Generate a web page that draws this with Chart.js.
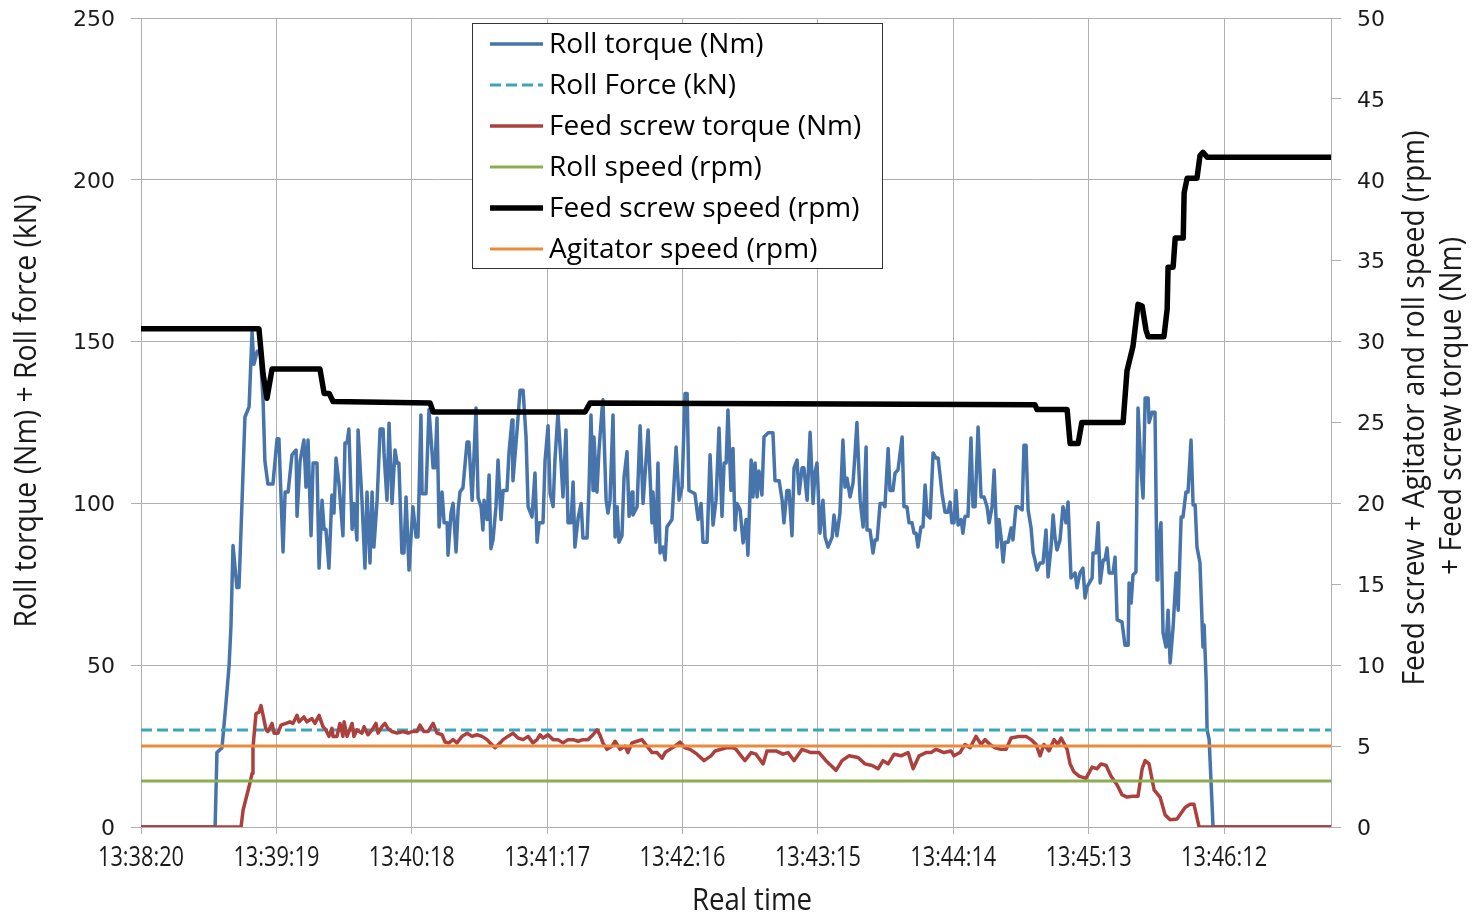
<!DOCTYPE html>
<html>
<head>
<meta charset="utf-8">
<script src="https://cdn.jsdelivr.net/npm/chart.js@4.4.1/dist/chart.umd.min.js"></script>
<style>
  html, body { margin: 0; padding: 0; background: #fff; }
  canvas { display: block; }
</style>
</head>
<body>
<canvas id="chart" width="1476" height="915"></canvas>
<script>
// ─── Data (time in seconds from 13:38:20) ────────────────────────────────────

const START_SEC = 13 * 3600 + 38 * 60 + 20;
const T_END = 518.6;
const TIME_STEP = 59;

// Roll torque (Nm), left axis
const rollTorque = [
  [0,0],[32.3,0],[33.1,23],[35.3,24.5],[37.0,38],[38.4,50],[39.2,62],[40.1,87],[41.8,74],[42.7,74],[44.0,100],
  [45.3,126.7],[47.1,129.8],[48.4,153],[49.2,143],[50.6,147],[51.9,147],[53.2,132],[54.0,113],[55.3,106],[57.5,106],
  [59.3,120],[60.1,120],[61.9,85],[62.8,103.5],[64.1,103.5],[65.8,115],[67.6,116.5],[68.0,96],[69.3,113],[71.0,119.6],
  [71.9,105],[72.8,119.6],[74.1,90],[75.0,112.5],[76.7,112.5],[77.6,80],[78.9,101],[79.8,92],[80.6,92],[81.9,80],
  [83.2,102.6],[84.1,97],[85.0,114],[86.3,106],[88.0,90],[88.9,118.7],[89.8,118.7],[90.6,123],[92.0,92],[92.8,100],
  [94.1,88.7],[94.6,122.7],[96.3,101],[97.6,80],[98.5,103.5],[99.8,81.6],[100.7,103.5],[101.5,86.5],[102.9,101],
  [104.2,123],[105.5,123],[105.9,115.6],[107.2,101],[108.1,124.8],[109.4,100],[110.7,116.5],[111.6,112.5],[112.4,112.5],
  [113.7,84.7],[114.6,84.7],[115.5,102],[116.8,79.4],[118.5,99],[119.9,89.6],[120.7,89.6],[122.0,127.3],[122.5,103],
  [124.2,103],[125.5,129],[127.3,111],[128.1,111],[129.0,126.4],[129.9,92.7],[131.2,103.5],[132.1,94],[133.4,94],
  [133.8,84],[135.1,97],[136.0,100],[137.3,85],[138.2,98],[139.0,103.5],[140.3,104.8],[142.1,119],[142.9,119],
  [144.3,101],[146.0,129.5],[146.9,101.7],[148.2,99],[149.0,91.8],[149.5,101],[150.8,95],[151.7,108.8],[152.5,86],
  [153.4,88.7],[154.7,99],[155.6,113.4],[156.9,95],[157.8,104],[159.5,104],[160.4,116],[161.7,125.8],[162.1,107],
  [163.9,122.7],[165.2,135],[166.5,135],[167.8,120.5],[168.7,99],[170.4,95.8],[171.7,109.4],[172.6,88],[173.5,94],
  [175.2,94],[176.1,113.4],[177.4,124],[178.3,103],[179.6,99],[180.4,113.4],[181.7,128],[183.0,113.4],[183.9,102],
  [185.2,122.7],[186.1,94],[187.4,94],[188.3,106.6],[189.1,86.5],[190.5,95.5],[191.8,100],[192.6,89.3],[194.4,89.3],
  [195.2,104],[196.1,127.3],[197.0,104],[197.4,120.5],[198.7,103.5],[199.6,116.5],[200.9,128.9],[201.3,132],[202.7,101],
  [203.5,97],[204.4,101],[205.7,127.3],[206.6,89.6],[207.5,99],[208.3,88],[209.6,90],[210.5,108],[211.8,116],[212.7,96],
  [214.0,103.5],[214.4,96.4],[216.2,99],[217.5,124],[218.8,100],[221.0,122.7],[222.7,94],[223.1,103.5],[224.4,88],
  [225.3,112.5],[226.2,84.7],[227.5,86.5],[228.4,82.5],[229.2,92.7],[231.4,95],[233.2,117.4],[234.5,101],[235.8,105],
  [237.1,134],[238.0,134],[238.8,104],[241.4,103],[242.8,95],[244.1,100],[244.9,88],[246.7,88],[248.0,115],[249.3,93.3],
  [250.6,101],[251.9,123.3],[253.2,96],[254.1,112.5],[255.0,112.5],[255.8,128.9],[257.1,104],[258.0,117],[258.9,91.8],
  [259.7,100],[261.1,98],[262.4,87.8],[263.7,95],[264.5,84],[265.9,113.4],[266.7,102],[267.6,112.5],[268.5,102],
  [269.3,110],[270.6,102.6],[271.5,120.5],[273.3,121.8],[275.4,121.8],[276.3,107],[278.1,107],[279.4,101],[280.2,94],
  [281.5,104],[282.4,104],[283.7,90],[284.6,111],[285.9,113.4],[286.8,103],[288.1,111],[288.9,111],[290.3,101],
  [291.6,122],[292.9,100],[293.7,109.4],[294.6,112.5],[295.9,90.8],[297.2,101],[298.1,89.6],[299.4,86.5],[301.2,89.6],
  [302.0,96.4],[303.3,90],[304.6,97],[305.9,119.6],[306.8,105],[307.7,107.8],[309.0,102],[310.3,106.3],[311.2,115.6],
  [312.0,125],[313.4,101],[314.7,92.7],[316.0,117.4],[316.4,91.8],[317.7,91.8],[319.0,84.7],[319.9,88.7],[320.8,88.7],
  [322.1,100],[323.4,100],[324.2,99],[325.6,117],[326.4,104],[327.7,104],[328.6,109.4],[329.9,110.3],[331.7,120.5],
  [332.5,99],[333.8,99],[334.7,94],[336.0,94],[336.9,90.8],[337.8,90.8],[338.6,86.5],[339.9,92.7],[340.8,92.7],
  [341.7,105.7],[342.6,96.4],[343.9,95.5],[345.2,115.6],[346.5,114],[347.4,114],[349.1,103],[350.4,97.3],[351.7,97.3],
  [352.6,100.4],[353.4,94],[354.3,94],[355.2,104],[356.1,93.3],[357.4,95],[358.2,90.8],[359.1,96],[360.4,96],
  [361.7,120.2],[362.6,99],[363.5,99],[364.8,123.6],[366.1,102],[367.4,102],[368.7,99],[369.6,94],[370.9,99],
  [371.8,110.3],[373.1,86.5],[373.9,95],[374.8,89.6],[375.7,81.9],[376.5,88],[377.9,88],[379.2,92.4],[380.0,88.7],
  [381.3,99],[382.2,99],[384.0,98],[384.8,118],[385.7,118],[386.6,98],[387.9,92.4],[388.8,84.7],[389.6,82.5],
  [390.5,79.4],[391.8,81.6],[393.1,81.6],[394.4,91.8],[395.3,77.3],[396.6,86.5],[397.5,96.4],[398.3,89.6],[399.2,85.6],
  [400.5,88.7],[401.8,99],[403.1,94],[404.0,100.4],[405.3,77],[407.1,78.5],[407.9,73.9],[409.2,78.5],[410.5,80],
  [411.4,70.8],[412.3,74.2],[414.5,77],[414.9,84.7],[416.2,84.7],[417.1,94],[418.0,75.4],[419.3,82.5],[420.1,82.5],
  [421.0,86.2],[421.9,78.5],[423.6,78.5],[424.5,83.4],[425.4,64],[427.5,63.4],[428.8,56.2],[430.2,56.2],[430.6,75.4],
  [431.5,69.2],[432.3,77.9],[433.6,78.8],[434.5,129.5],[435.8,110.3],[436.7,101.7],[437.6,132.6],[438.9,132.6],
  [439.3,125],[440.6,128.2],[441.9,128.2],[442.8,76.3],[443.2,86.5],[444.5,94],[445.4,60],[446.7,55.6],[447.6,67],
  [448.5,50.7],[449.8,61.8],[451.1,78.5],[452.0,67],[453.3,95.8],[454.1,95.8],[455.4,103.5],[456.3,103.5],[457.6,119.6],
  [458.5,99.5],[459.4,99.5],[460.2,86.5],[461.5,81.6],[462.8,55.6],[463.3,62.4],[464.2,45],[464.6,30],[465.5,27],
  [467.2,0],[518.6,0]
];

// Roll force (kN), left axis
const rollForce = [[0,30],[518.6,30]];

// Feed screw torque (Nm), right axis
const feedTorque = [
  [0,0],[43.6,0],[44.5,1.05],[47.1,2.5],[48.4,3.3],[48.8,4.9],[50.1,7.0],[51.4,7.1],[52.3,7.5],[53.2,6.9],[54.5,6.0],
  [55.3,5.9],[57.1,6.4],[58.0,5.8],[59.7,5.8],[61.0,6.3],[63.2,6.4],[64.9,6.5],[66.2,6.4],[68.0,6.9],[68.9,6.5],
  [71.0,6.8],[72.3,6.5],[74.5,6.7],[75.8,6.4],[77.6,6.9],[79.3,6.2],[80.6,6.0],[81.9,5.6],[83.2,6.1],[83.7,5.6],
  [85.4,5.6],[86.7,6.4],[88.0,5.6],[88.5,6.5],[89.8,5.6],[92.0,6.4],[92.8,5.6],[94.1,6.0],[96.3,5.8],[97.2,6.2],
  [98.9,5.7],[100.7,6.0],[102.4,6.4],[103.3,5.8],[105.0,6.2],[106.3,6.4],[107.6,6.1],[109.4,5.9],[111.6,5.8],
  [114.2,5.9],[116.4,5.8],[118.1,5.9],[120.3,5.9],[121.6,6.3],[123.3,5.9],[125.1,5.9],[127.3,6.4],[129.0,5.8],
  [131.2,5.7],[132.5,5.25],[134.2,5.2],[136.0,5.4],[137.7,5.2],[139.9,5.6],[142.1,5.8],[144.3,5.6],[146.4,5.7],
  [148.6,5.6],[150.8,5.4],[152.1,5.2],[154.3,4.9],[156.5,5.2],[157.8,5.4],[159.9,5.6],[162.1,5.8],[164.3,5.5],
  [166.5,5.4],[168.7,5.6],[170.8,5.2],[172.6,5.4],[173.9,5.7],[175.2,5.5],[177.4,5.7],[179.6,5.4],[181.7,5.4],
  [183.9,5.2],[186.1,5.4],[188.3,5.4],[190.5,5.3],[192.6,5.4],[194.8,5.4],[197.0,5.7],[198.7,6.0],[200.0,5.7],
  [201.3,5.2],[203.1,4.8],[205.3,5.0],[206.6,5.3],[208.8,4.8],[210.9,5.0],[212.2,4.6],[214.0,5.2],[216.2,5.3],
  [218.3,5.4],[220.5,5.0],[222.7,4.6],[224.9,4.6],[227.1,4.25],[228.4,4.6],[230.5,4.8],[232.7,5.0],[234.9,5.25],
  [237.1,4.9],[239.3,4.8],[242.3,4.5],[245.4,4.1],[248.4,4.4],[250.2,4.7],[255.0,4.9],[258.0,4.9],[259.3,4.8],
  [263.2,4.1],[265.9,4.6],[268.0,4.5],[271.1,3.9],[272.8,4.7],[276.7,4.7],[279.8,4.5],[282.0,4.6],[284.6,4.1],
  [288.1,4.8],[292.0,4.6],[295.5,4.6],[298.5,4.1],[300.7,3.8],[302.9,3.5],[305.5,4.1],[308.6,4.4],[312.5,4.3],
  [315.5,3.9],[318.6,3.8],[321.2,3.6],[323.4,4.1],[325.6,3.9],[328.2,4.5],[331.2,4.4],[334.3,4.6],[336.5,3.6],
  [339.1,4.4],[342.1,4.6],[344.3,4.6],[346.5,4.8],[350.0,4.6],[353.0,4.7],[354.3,4.4],[356.9,4.6],[359.1,5.1],
  [361.3,4.9],[363.9,5.6],[366.1,5.1],[367.8,5.4],[370.0,5.1],[372.2,4.9],[374.8,4.8],[377.0,4.8],[379.2,5.5],
  [382.7,5.6],[385.7,5.6],[387.9,5.4],[390.1,5.1],[391.8,4.4],[393.5,5.1],[395.7,4.7],[397.9,5.4],[399.6,5.1],
  [401.0,5.5],[403.6,4.8],[404.9,3.9],[406.6,3.4],[408.8,3.15],[411.8,3.0],[414.5,3.7],[416.6,3.6],[418.4,3.9],
  [420.6,3.8],[422.7,3.15],[425.4,2.6],[427.5,2.0],[429.7,1.85],[432.3,1.9],[434.5,1.9],[436.3,3.6],[437.6,4.1],
  [439.3,3.9],[441.5,2.3],[444.1,1.85],[446.3,0.75],[448.5,0.45],[451.5,0.5],[455.0,1.2],[457.2,1.4],[458.9,1.4],
  [461.1,0],[518.6,0]
];

// Roll speed (rpm), right axis
const rollSpeed = [[0,2.85],[518.6,2.85]];

// Feed screw speed (rpm), right axis
const feedSpeed = [
  [0,30.8],[51.4,30.8],[53.2,28.0],[54.9,26.5],[57.1,28.3],[78.0,28.3],[79.8,26.8],[82.0,26.8],[83.7,26.3],
  [126.0,26.2],[127.3,25.65],[193.5,25.65],[195.7,26.2],[389.6,26.1],[390.5,25.8],[403.6,25.8],[404.9,23.7],
  [408.4,23.7],[410.0,25.0],[428.0,25.0],[429.7,28.2],[432.3,29.7],[434.5,32.3],[436.3,32.2],[438.0,30.7],
  [438.9,30.3],[445.8,30.3],[447.2,32.0],[447.6,34.6],[449.8,34.6],[450.7,36.4],[454.2,36.4],[454.6,39.2],
  [455.9,40.1],[460.2,40.1],[461.5,41.5],[462.8,41.7],[464.6,41.4],[518.6,41.4]
];

// Agitator speed (rpm), right axis
const agitatorSpeed = [[0,5.0],[518.6,5.0]];

const SERIES = [
  { label: 'Roll torque (Nm)',        data: rollTorque,    axis: 'y',  color: '#4674ab', width: 3.5 },
  { label: 'Roll Force (kN)',         data: rollForce,     axis: 'y',  color: '#3ea3bd', width: 3, dash: [11, 5] },
  { label: 'Feed screw torque (Nm)',  data: feedTorque,    axis: 'y1', color: '#ab403d', width: 3.5 },
  { label: 'Roll speed (rpm)',        data: rollSpeed,     axis: 'y1', color: '#8cae4f', width: 3 },
  { label: 'Feed screw speed (rpm)',  data: feedSpeed,     axis: 'y1', color: '#000000', width: 5.5 },
  { label: 'Agitator speed (rpm)',    data: agitatorSpeed, axis: 'y1', color: '#ea8a3c', width: 3 },
];

const X_TITLE = 'Real time';
const Y_TITLE = 'Roll torque (Nm) + Roll force (kN)';
const Y1_TITLE = ['Feed screw + Agitator and roll speed (rpm)', '+ Feed screw torque (Nm)'];

// ─── Styling helpers ─────────────────────────────────────────────────────────

const GRID = '#b0b0b0';
const INK = '#1a1a1a';
const HUMAN = '"Open Sans", "Liberation Sans", sans-serif';
const WIDE = '"DejaVu Sans", Verdana, sans-serif';

function fmtTime(v) {
  const s = START_SEC + Math.round(v);
  const hh = Math.floor(s / 3600), mm = Math.floor((s % 3600) / 60), ss = s % 60;
  return `${hh}:${String(mm).padStart(2, '0')}:${String(ss).padStart(2, '0')}`;
}

// narrow text: squeeze a normal face to a target width (the source uses a condensed look)
function squeezeText(ctx, text, x, y, targetW, angle) {
  const w = ctx.measureText(text).width;
  ctx.save();
  ctx.translate(x, y);
  if (angle) ctx.rotate(angle);
  ctx.scale(targetW / w, 1);
  ctx.fillText(text, 0, 0);
  ctx.restore();
}

// no extra room above/below the plot for half tick labels
function fixedWidth(w) {
  return s => { s.width = w; s.paddingTop = 0; s.paddingBottom = 0; };
}

// tick labels on x, titles, boxed legend inside the plot
const decorPlugin = {
  id: 'decor',
  afterDraw(chart) {
    const ctx = chart.ctx;
    const xs = chart.scales.x;
    ctx.save();
    ctx.fillStyle = INK;
    ctx.textAlign = 'center';
    ctx.textBaseline = 'middle';

    ctx.font = `28px ${HUMAN}`;
    const tickW = 86 / ctx.measureText('13:38:20').width;
    xs.ticks.forEach(t => {
      const label = fmtTime(t.value);
      squeezeText(ctx, label, xs.getPixelForValue(t.value), 858, ctx.measureText(label).width * tickW);
    });

    ctx.font = `31px ${HUMAN}`;
    squeezeText(ctx, X_TITLE, 752, 901, 120);
    squeezeText(ctx, Y_TITLE, 27, 411, 433, -Math.PI / 2);
    squeezeText(ctx, Y1_TITLE[0], 1415, 408, 555, -Math.PI / 2);
    squeezeText(ctx, Y1_TITLE[1], 1452, 406, 338, -Math.PI / 2);

    // legend box
    const bx = 472, by = 23, bw = 410, bh = 245, row = 41;
    ctx.fillStyle = '#fff';
    ctx.fillRect(bx, by, bw, bh);
    ctx.strokeStyle = '#333';
    ctx.lineWidth = 1;
    ctx.strokeRect(bx + 0.5, by + 0.5, bw, bh);
    ctx.font = `28px ${HUMAN}`;
    ctx.textAlign = 'left';
    chart.data.datasets.forEach((ds, i) => {
      const cy = by + 21 + i * row;
      ctx.strokeStyle = ds.borderColor;
      ctx.lineWidth = ds.borderWidth;
      ctx.setLineDash(ds.borderDash || []);
      ctx.beginPath();
      ctx.moveTo(490, cy);
      ctx.lineTo(543, cy);
      ctx.stroke();
      ctx.setLineDash([]);
      ctx.fillStyle = '#000';
      ctx.fillText(ds.label, 549, cy + 1);
    });
    ctx.restore();
  }
};

// ─── Chart ───────────────────────────────────────────────────────────────────

const datasets = SERIES.map((s, i) => ({
  label: s.label,
  data: s.data.map(([x, y]) => ({ x, y })),
  yAxisID: s.axis,
  borderColor: s.color,
  backgroundColor: s.color,
  borderWidth: s.width,
  borderDash: s.dash,
  borderJoinStyle: 'round',
  pointRadius: 0,
  tension: 0,
  fill: false,
  order: SERIES.length - i,
}));

new Chart(document.getElementById('chart'), {
  type: 'line',
  data: { datasets },
  options: {
    responsive: false,
    animation: false,
    devicePixelRatio: 1,
    layout: { padding: { top: 18, left: 0, right: 0, bottom: 0 } },
    plugins: { legend: { display: false }, tooltip: { enabled: false } },
    scales: {
      x: {
        type: 'linear', min: 0, max: T_END,
        afterFit: s => { s.height = 88; s.paddingLeft = 0; s.paddingRight = 0; },
        grid: { color: GRID, lineWidth: 1, tickLength: 7 },
        border: { color: GRID },
        ticks: {
          display: false, stepSize: TIME_STEP, includeBounds: false, autoSkip: false, maxRotation: 0,
          callback: v => fmtTime(v),
        },
      },
      y: {
        position: 'left', min: 0, max: 250,
        afterFit: fixedWidth(141),
        grid: { color: GRID, lineWidth: 1, tickLength: 10 },
        border: { color: GRID },
        ticks: { stepSize: 50, padding: 16, labelOffset: 2, color: INK, font: { family: WIDE, size: 22 } },
      },
      y1: {
        position: 'right', min: 0, max: 50,
        afterFit: fixedWidth(145),
        grid: { color: GRID, lineWidth: 1, tickLength: 10, drawOnChartArea: false },
        border: { color: GRID },
        ticks: { stepSize: 5, padding: 16, labelOffset: 2, color: INK, font: { family: WIDE, size: 22 } },
      },
    },
  },
  plugins: [decorPlugin],
});
</script>
</body>
</html>
